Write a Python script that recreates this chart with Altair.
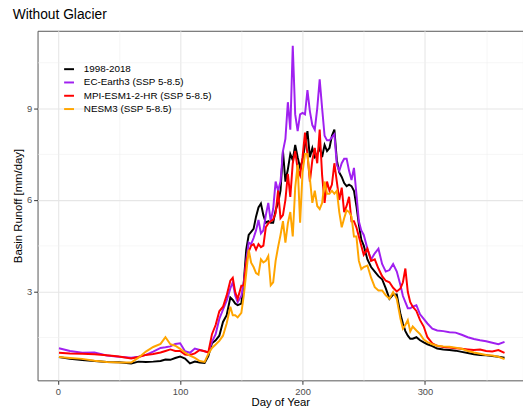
import altair as alt
import pandas as pd

days = [1, 10, 20, 30, 40, 50, 60, 66, 72, 78, 84, 88, 92, 96, 100, 104, 108, 112, 116, 120,
        123, 126, 129, 132, 135, 138, 141, 143, 145, 147, 150, 152, 154, 156, 158, 160, 162, 164,
        166, 168, 170, 172, 174, 176, 178, 180, 182, 184, 186, 188, 190, 192, 194, 196, 198, 200,
        202, 204, 206, 208, 210, 212, 214, 216, 218, 220, 222, 224, 226, 228, 230, 232, 234, 236,
        238, 240, 242, 244, 246, 248, 250, 253, 256, 259, 262, 265, 268, 271, 274, 277, 280, 282,
        284, 286, 288, 290, 293, 296, 299, 302, 306, 310, 315, 320, 325, 330, 335, 340, 345, 350,
        355, 360, 365]

obs_1998_2018 = [0.85, 0.79, 0.75, 0.72, 0.69, 0.68, 0.64, 0.70, 0.69, 0.70, 0.72, 0.77, 0.76, 0.82, 0.87, 0.80, 0.64, 0.70, 0.67, 0.66,
                 0.88, 1.30, 1.40, 1.55, 2.00, 2.22, 2.80, 2.72, 2.60, 2.55, 2.60, 3.30, 4.37, 4.85, 4.95, 5.05, 5.45, 5.75,
                 5.88, 5.50, 5.25, 5.30, 5.25, 5.25, 5.66, 5.90, 6.30, 7.60, 6.60, 7.00, 7.50, 7.30, 7.80, 7.40, 7.05, 7.30,
                 7.80, 8.25, 7.40, 7.70, 7.40, 7.50, 7.70, 7.40, 7.80, 7.60, 7.70, 8.10, 8.30, 7.30, 6.90, 6.75, 6.55, 6.45,
                 6.50, 6.45, 6.30, 5.80, 5.20, 4.70, 4.50, 4.05, 3.80, 3.65, 3.50, 3.40, 3.10, 2.76, 2.90, 2.90, 2.25, 1.95,
                 1.70, 1.55, 1.45, 1.45, 1.50, 1.40, 1.33, 1.27, 1.21, 1.13, 1.10, 1.08, 1.06, 1.02, 0.98, 0.94, 0.92, 0.91,
                 0.88, 0.86, 0.83]

ec_earth3 = [1.14, 1.05, 0.99, 1.00, 0.90, 0.86, 0.83, 0.86, 0.92, 1.03, 1.15, 1.17, 1.20, 1.28, 1.30, 1.04, 0.99, 1.13, 1.08, 1.04,
             1.00, 1.35, 1.60, 2.10, 2.40, 2.70, 3.10, 3.30, 2.87, 2.65, 2.85, 3.30, 4.00, 4.60, 4.55, 4.75, 5.00, 5.34,
             4.90, 5.00, 5.50, 5.90, 5.30, 5.70, 6.60, 6.30, 6.60, 7.60, 8.00, 9.20, 8.30, 11.05, 8.80, 8.25, 8.80, 8.85,
             8.80, 9.60, 8.90, 8.45, 8.30, 9.00, 9.95, 9.00, 8.10, 7.95, 7.95, 8.05, 8.15, 7.15, 6.95, 7.20, 7.35, 7.35,
             6.95, 6.65, 7.05, 6.20, 5.30, 5.00, 4.85, 4.40, 4.05, 4.25, 4.40, 3.90, 3.65, 3.70, 3.90, 3.65, 3.20, 2.85,
             2.65, 2.45, 2.45, 2.50, 2.55, 2.25, 2.10, 1.95, 1.78, 1.72, 1.70, 1.66, 1.65, 1.58, 1.50, 1.44, 1.40, 1.37,
             1.32, 1.27, 1.35]

mpi_esm = [0.99, 0.97, 0.96, 0.94, 0.91, 0.87, 0.80, 0.85, 0.92, 0.95, 1.00, 1.05, 1.10, 1.05, 1.05, 0.93, 0.92, 0.97, 1.08, 1.04,
           1.00, 1.60, 1.90, 2.35, 2.50, 2.87, 3.35, 3.45, 2.98, 2.76, 3.19, 3.19, 3.94, 4.30, 4.50, 4.55, 4.37, 4.55,
           4.45, 4.50, 5.10, 5.23, 5.30, 5.35, 5.56, 6.30, 5.40, 5.50, 6.00, 6.85, 6.10, 7.20, 7.60, 7.00, 6.80, 7.40,
           8.20, 7.50, 6.60, 7.30, 7.70, 7.20, 8.30, 6.80, 5.90, 6.60, 6.30, 6.50, 7.20, 6.60, 6.00, 6.40, 5.60, 5.80,
           6.10, 5.30, 5.30, 5.10, 4.80, 4.50, 4.20, 4.40, 4.00, 4.05, 3.75, 3.50, 3.35, 3.30, 3.12, 3.00, 3.10, 3.30,
           3.75, 2.98, 2.65, 2.50, 2.36, 2.06, 1.85, 1.50, 1.30, 1.22, 1.18, 1.16, 1.14, 1.12, 1.10, 1.08, 1.10, 1.05,
           1.03, 1.08, 0.99]

nesm3 = [0.85, 0.82, 0.79, 0.73, 0.69, 0.67, 0.67, 0.83, 1.03, 1.18, 1.28, 1.50, 1.27, 1.22, 1.12, 1.00, 0.90, 0.82, 0.72, 0.69,
         0.95, 1.15, 1.26, 1.38, 1.55, 1.95, 2.50, 2.22, 2.22, 2.15, 2.30, 2.87, 3.60, 4.37, 3.94, 3.80, 3.60, 3.55,
         4.05, 3.95, 4.00, 4.16, 3.20, 3.30, 4.00, 4.45, 4.85, 5.30, 4.60, 5.23, 5.60, 4.80, 6.40, 7.15, 5.25, 6.90,
         7.50, 7.50, 6.70, 5.90, 6.30, 5.80, 5.70, 5.90, 6.60, 6.20, 6.20, 6.30, 6.20, 6.30, 5.60, 5.10, 5.40, 5.66,
         5.60, 5.45, 4.80, 4.80, 4.00, 3.73, 3.80, 3.85, 3.45, 3.14, 3.03, 3.03, 2.87, 2.76, 2.98, 2.75, 2.10, 1.78,
         1.90, 2.06, 1.69, 1.85, 1.72, 1.60, 1.42, 1.34, 1.27, 1.22, 1.20, 1.19, 1.16, 1.12, 1.05, 1.00, 0.96, 0.92,
         0.90, 0.86, 0.78]

series_names = ["1998-2018", "EC-Earth3 (SSP 5-8.5)", "MPI-ESM1-2-HR (SSP 5-8.5)", "NESM3 (SSP 5-8.5)"]
series_colors = ["#000000", "#A020F0", "#FF0000", "#FFA500"]

x_grid = [0, 50, 100, 150, 200, 250, 300, 350]
y_grid = [1.5, 3, 4.5, 6, 7.5, 9, 10.5]

rows = []
for name, vals in zip(series_names, [obs_1998_2018, ec_earth3, mpi_esm, nesm3]):
    for d, v in zip(days, vals):
        rows.append({"day": d, "runoff": v, "series": name})
df = pd.DataFrame(rows)

FONT = "Liberation Sans"

def axis(values, major_test, title, title_pad):
    return alt.Axis(
        values=values,
        title=title,
        labelExpr=f"{major_test} ? format(datum.value, 'd') : ''",
        labelFont=FONT, labelFontSize=9.5, labelColor="#4d4d4d", labelPadding=2,
        titleFont=FONT, titleFontSize=11.5, titleFontWeight="normal", titleColor="#000000",
        titlePadding=title_pad,
        domain=False,
        tickColor="#333333", tickWidth=1,
        tickSize={"condition": {"test": major_test, "value": 4}, "value": 0},
        tickOpacity={"condition": {"test": major_test, "value": 1}, "value": 0},
        gridColor={"condition": {"test": major_test, "value": "#e6e6e6"}, "value": "#f0f0f0"},
        gridWidth={"condition": {"test": major_test, "value": 1.1}, "value": 0.6},
    )

chart = alt.Chart(df).mark_line(strokeWidth=2, clip=True).encode(
    x=alt.X("day:Q",
            scale=alt.Scale(domain=[-16.5, 380.1], nice=False, zero=False),
            axis=axis(x_grid, "datum.value % 100 == 0", "Day of Year", 1)),
    y=alt.Y("runoff:Q",
            scale=alt.Scale(domain=[0.087, 11.54], nice=False, zero=False),
            axis=axis(y_grid, "datum.value % 3 == 0", "Basin Runoff [mm/day]", 3)),
    color=alt.Color("series:N",
                    scale=alt.Scale(domain=series_names, range=series_colors),
                    legend=alt.Legend(orient="none", legendX=26, legendY=33, title=None,
                                      symbolType="stroke", symbolSize=100, symbolStrokeWidth=2,
                                      labelFont=FONT, labelFontSize=10, labelColor="#000000",
                                      labelOffset=9, rowPadding=2.5, padding=0)),
    detail="series:N",
).properties(
    width=493, height=355,
    title=alt.TitleParams("Without Glacier", anchor="start", font=FONT, fontSize=14,
                          fontWeight="normal", color="#000000", offset=9),
    autosize=alt.AutoSizeParams(type="none"),
    padding={"left": 30, "top": 20, "right": 0, "bottom": 28},
).configure_view(stroke="#555555", strokeWidth=1)

chart.save("out.html", embed_options={"renderer": "svg", "actions": False})
